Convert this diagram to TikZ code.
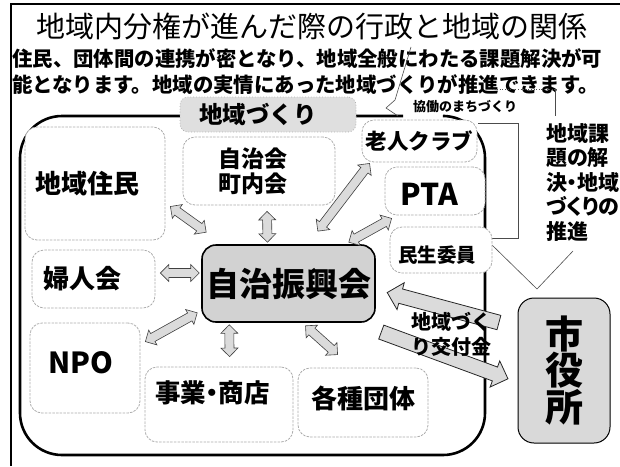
\documentclass[tikz,border=0pt]{standalone}
\usepackage{fontspec}
\setmainfont{Noto Sans CJK JP}
\newfontfamily\jpprop[RawFeature=+palt]{Noto Sans CJK JP}
\usetikzlibrary{shapes.arrows,calc}

\newcommand\fsz[2]{\fontsize{#1}{#2}\selectfont}
\newcommand\twoway[2]{%
  \path let \p1=($(#2)-(#1)$), \n1={atan2(\y1,\x1)}, \n2={veclen(\x1,\y1)} in
    node[twoarrow, minimum height=\n2, rotate=\n1] at ($(#1)!0.5!(#2)$) {};}
\newcommand\oneway[2]{%
  \path let \p1=($(#2)-(#1)$), \n1={atan2(\y1,\x1)}, \n2={veclen(\x1,\y1)} in
    node[fundarrow, minimum height=\n2, rotate=\n1] at ($(#1)!0.5!(#2)$) {};}

\tikzset{
  region/.style={line width=2.6pt, rounded corners=42pt},
  leader/.style={gray!60!black, line width=0.6pt},
  member/.style={draw=gray!65, dash pattern=on 2.5pt off 1.2pt, line width=0.8pt,
    fill=white, rounded corners=12pt, inner sep=0pt},
  boxtext/.style={font=\bfseries\fsz{#1}{#1}, inner sep=0pt},
  core/.style={draw=black, line width=1.6pt, fill=gray!35, rounded corners=14pt,
    inner sep=0pt, font=\bfseries\fsz{33}{33}},
  twoarrow/.style={double arrow, draw=gray!50!black, fill=gray!28, line width=0.6pt,
    inner xsep=0pt, inner ysep=4.2pt, double arrow head extend=4pt},
  fundarrow/.style={single arrow, draw=black!85, fill=gray!28, line width=0.8pt,
    inner xsep=0pt, inner ysep=7pt, single arrow head extend=6.5pt},
}

\begin{document}
\begin{tikzpicture}[x=1pt,y=-1pt]
\useasboundingbox (0,0) rectangle (620,466);

% frame and heading
\draw[line width=1.4pt] (11,466) -- (11,4) -- (620,4);
\node[font=\fsz{29}{29}] (title) at (312,26) {地域内分権が進んだ際の行政と地域の関係};
\node[boxtext=20.4, anchor=west] (lead1) at (12,59) {住民、団体間の連携が密となり、地域全般にわたる課題解決が可};
\node[boxtext=20.4, anchor=west] (lead2) at (12,85) {能となります。地域の実情にあった地域づくりが推進できます。};

% community area
\draw[region] (403,116) -- (20,116) -- (20,455) -- (485,455) -- (485,116) -- (445,116);

% leader lines
\draw[leader] (411,47) -- (395,100) -- (386,108) -- (398,116);
\draw[leader, dotted] (492,89) -- (555,89);
\draw[leader] (555,89) -- (555,116);
\draw[leader] (478,123) -| (518,238) -- (492,238);
\draw[leader] (492,245) -- (537,289) -- (573,251);

\node[font=\bfseries\fsz{13}{13}] (kyodo) at (465,107) {協働のまちづくり};
\node[font=\jpprop\bfseries\fsz{21}{24.5}, align=left, anchor=north west, inner sep=0pt] (kadai) at (546,123)
  {地域課\\題の解\\決・地域\\づくりの\\推進};

% boxes
\node[member, draw=gray!60, dotted, fill=gray!25, rounded corners=8pt, minimum width=176pt, minimum height=35pt,
  label={[boxtext=23.5, xshift=-10pt]center:地域づくり}] (zukuri) at (268,114.5) {};
\node[member, minimum width=140pt, minimum height=113pt,
  label={[boxtext=26, xshift=-8pt]center:地域住民}] (jumin) at (95,183.5) {};
\node[member, minimum width=152pt, minimum height=68pt,
  label={[font=\bfseries\fsz{23}{25}, inner sep=0pt, align=center, xshift=-6.5pt]center:自治会\\町内会}] (chonai) at (259,171) {};
\node[member, minimum width=115pt, minimum height=42pt,
  label={[boxtext=21.5]center:老人クラブ}] (rojin) at (419.5,141) {};
\node[member, minimum width=100pt, minimum height=48pt,
  label={[boxtext=30, xshift=-6pt, yshift=-3pt]center:PTA}] (pta) at (435,191) {};
\node[member, minimum width=102pt, minimum height=46pt,
  label={[boxtext=19.5, xshift=-4pt, yshift=-5pt]center:民生委員}] (minsei) at (441,250) {};
\node[member, minimum width=123pt, minimum height=58pt,
  label={[boxtext=26, xshift=-11pt]center:婦人会}] (fujin) at (93.5,279) {};
\node[member, minimum width=110pt, minimum height=90pt,
  label={[boxtext=29, xshift=-4pt, yshift=5pt]center:NPO}] (npo) at (85,368) {};
\node[member, minimum width=148pt, minimum height=75pt,
  label={[boxtext=25.5, xshift=-6.5pt, yshift=12pt]center:事業{\kern-0.25em}・{\kern-0.25em}商店}] (jigyo) at (219,404.5) {};
\node[member, minimum width=130pt, minimum height=69pt,
  label={[boxtext=26, yshift=4.5pt]center:各種団体}] (kakushu) at (363,402.5) {};
\node[core, minimum width=173pt, minimum height=77pt] (shinko) at (288.5,283.5) {自治振興会};
\node[core, line width=1pt, fill=gray!30, rounded corners=16pt, minimum width=92pt, minimum height=145pt,
  font=\bfseries\fsz{38}{36.5}, align=center] (shiyaku) at (564,370.5) {市\\役\\所};

% two-way arrows
\coordinate (a1s) at ($(jumin.east)+(5,23)$);
\coordinate (a1e) at ($(shinko.north west)+(5,-12)$);
\coordinate (a2s) at ($(chonai.south)+(8,6)$);
\coordinate (a2e) at ($(shinko.north)+(-21,-2)$);
\coordinate (a3s) at ($(rojin.south west)+(8,1)$);
\coordinate (a3e) at ($(shinko.north east)+(-58,-13)$);
\coordinate (a4s) at ($(pta.south west)+(7,3)$);
\coordinate (a4e) at ($(shinko.north east)+(-27,-2)$);
\coordinate (a5s) at ($(fujin.east)+(5,-6)$);
\coordinate (a5e) at ($(shinko.west)+(-2,-10.5)$);
\coordinate (a6s) at ($(npo.north east)+(5,19)$);
\coordinate (a6e) at ($(shinko.south west)+(-4,-10)$);
\coordinate (a7s) at ($(shinko.south west)+(28,2)$);
\coordinate (a7e) at ($(jigyo.north west)+(85,-10)$);
\coordinate (a8s) at ($(shinko.south)+(17,3)$);
\coordinate (a8e) at ($(kakushu.north west)+(40,-13)$);
\foreach \i in {1,...,8} {\twoway{a\i s}{a\i e}}

% grant arrows
\coordinate (k1s) at ($(shiyaku.west)+(-15,-47)$);
\coordinate (k1e) at ($(shinko.east)+(15,10)$);
\coordinate (k2s) at ($(shinko.south east)+(2,8)$);
\coordinate (k2e) at ($(shiyaku.west)+(-13,7)$);
\oneway{k1s}{k1e}
\oneway{k2s}{k2e}
\node[font=\bfseries\fsz{20}{25}, align=center, inner sep=0pt] (grant) at (451,334.5) {地域づく\\り交付金};
\end{tikzpicture}
\end{document}
